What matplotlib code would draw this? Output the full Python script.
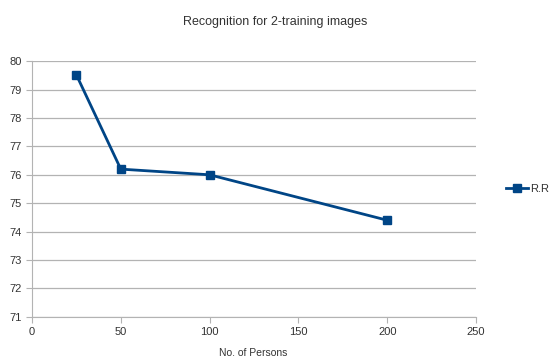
import matplotlib
matplotlib.use('Agg')
import matplotlib.pyplot as plt

# data
persons = [25, 50, 100, 200]
recognition = [79.52, 76.2, 76.0, 74.4]
x_ticks = [0, 50, 100, 150, 200, 250]
y_ticks = [71, 72, 73, 74, 75, 76, 77, 78, 79, 80]

plt.rcParams['font.family'] = ['Liberation Sans', 'DejaVu Sans']
text_color = '#333333'
grid_color = '#b3b3b3'

fig = plt.figure(figsize=(5.51, 3.6), dpi=100)
ax = fig.add_axes([0.058, 0.12, 0.806, 0.71])

ax.plot(persons, recognition, color='#004586', linewidth=2, marker='s',
        markersize=6, label='R.R')

ax.set_xlim(0, 250)
ax.set_ylim(71, 80)
ax.set_xticks(x_ticks)
ax.set_yticks(y_ticks)
ax.yaxis.grid(True, color=grid_color, linewidth=0.9)
ax.set_axisbelow(True)

for side in ['top', 'right']:
    ax.spines[side].set_visible(False)
for side in ['left', 'bottom']:
    ax.spines[side].set_color(grid_color)
ax.tick_params(colors=grid_color, labelcolor=text_color, labelsize=8, length=4)

# x axis title sits near the bottom edge
fig.text(0.46, 0.02, 'No. of Persons', fontsize=7.5, color=text_color,
         ha='center', va='center')
fig.suptitle('Recognition for 2-training images', fontsize=9, color=text_color, y=0.955)

ax.legend(loc='center left', bbox_to_anchor=(1.045, 0.5), frameon=False,
          fontsize=8, labelcolor=text_color, handlelength=2.0, handletextpad=0.2)

fig.savefig('out.png', dpi=100)
